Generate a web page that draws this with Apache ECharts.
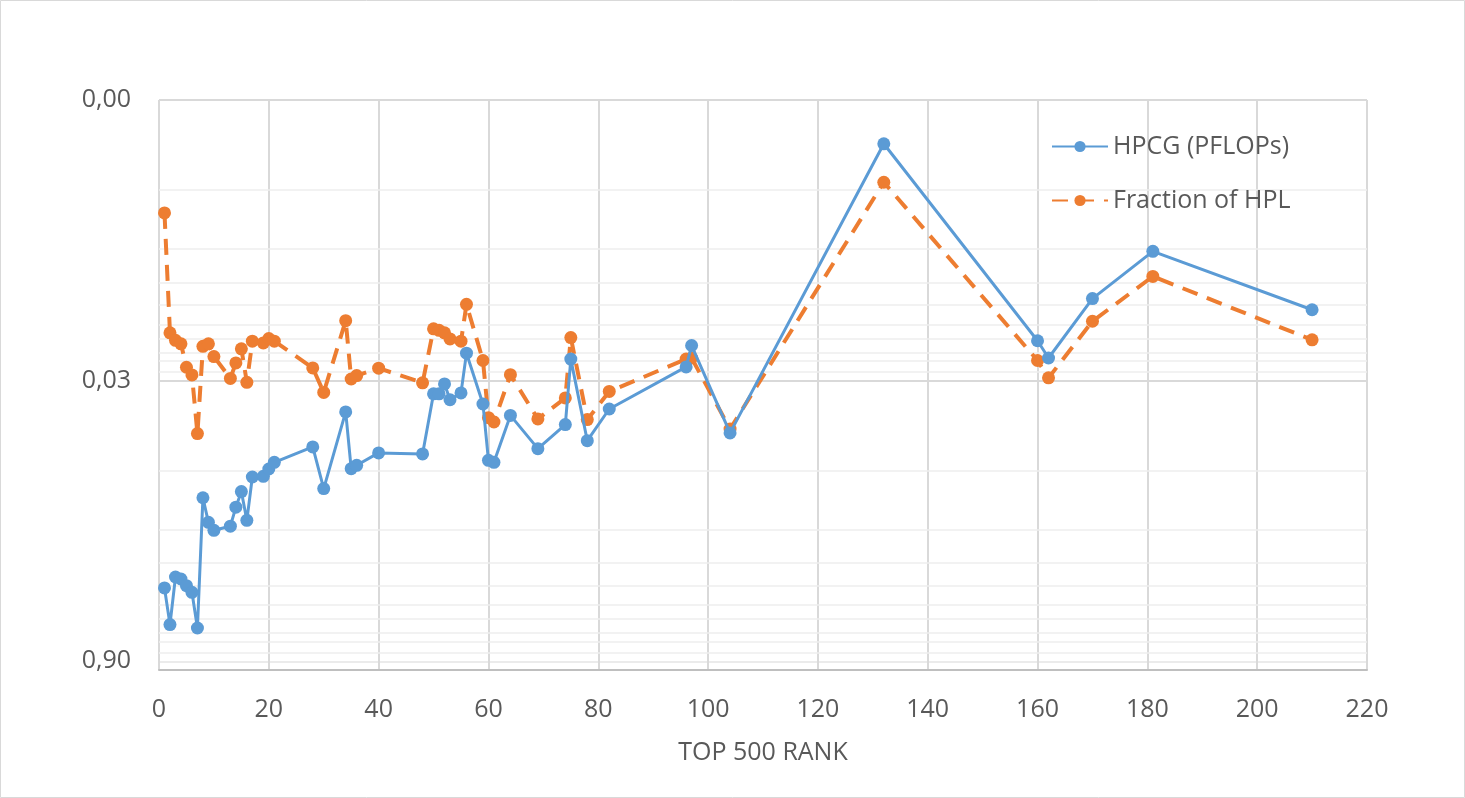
<!DOCTYPE html>
<html>
<head>
<meta charset="utf-8">
<script src="https://cdn.jsdelivr.net/npm/echarts@6/dist/echarts.min.js"></script>
<style>
html,body{margin:0;padding:0;background:#fff;}
#chart{width:1465px;height:798px;}
</style>
</head>
<body>
<div id="chart"></div>
<script>
// TOP500 rank (x)
var ranks = [1,2,3,4,5,6,7,8,9,10,13,14,15,16,17,19,20,21,28,30,34,35,36,40,48,50,51,52,53,55,56,59,60,61,64,69,74,75,78,82,96,97,104,132,160,162,170,181,210];
// HPCG (PFLOPs)
var hpcg = [0.370,0.577,0.324,0.332,0.360,0.390,0.601,0.124,0.167,0.184,0.175,0.139,0.115,0.163,0.0964,0.0957,0.0875,0.0807,0.0670,0.111,0.0438,0.0872,0.0837,0.0720,0.0729,0.0352,0.0352,0.0312,0.0378,0.0348,0.0215,0.0398,0.0788,0.0807,0.0457,0.0684,0.0511,0.0231,0.0621,0.0423,0.0254,0.0196,0.0565,0.00170,0.0185,0.0228,0.0111,0.00626,0.0127];
// Fraction of HPL
var fraction = [0.00393,0.0168,0.0184,0.0192,0.0255,0.0280,0.0570,0.0198,0.0192,0.0224,0.0292,0.0242,0.0204,0.0306,0.0186,0.0190,0.0180,0.0186,0.0257,0.0346,0.0145,0.0294,0.0282,0.0258,0.0308,0.0160,0.0163,0.0168,0.0181,0.0186,0.0119,0.0235,0.0470,0.0495,0.0279,0.0477,0.0370,0.0178,0.0481,0.0342,0.0231,0.0228,0.0539,0.00271,0.0235,0.0290,0.0146,0.00848,0.0183];
// log axis settings (base 30, reversed)
var logBase = 30;
var yMin = 0.001;
var yMax = 1.0;
var majorTicks = [0.001, 0.03, 0.9];
var minorMultipliers = [3,6,9,12,15,18,21,24,27];

function toU(v){ return Math.log(v / yMin) / Math.log(logBase); }
function fromU(u){ return yMin * Math.pow(logBase, u); }

var minorValues = [];
[0.001, 0.03].forEach(function(d){ minorMultipliers.forEach(function(k){ minorValues.push(d * k); }); });

var FONT = '"Open Sans", "Noto Sans", sans-serif';
var TXT = '#595959';

var chart = echarts.init(document.getElementById('chart'), null, {renderer:'canvas'});
var option = {
  animation: false,
  backgroundColor: '#ffffff',
  textStyle: {fontFamily: FONT},
  graphic: [{
    type: 'rect', silent: true, z: -10,
    shape: {x: 0.5, y: 0.5, width: 1464, height: 797},
    style: {fill: 'none', stroke: '#d9d9d9', lineWidth: 1}
  }],
  grid: {left: 159, right: 98, top: 100, bottom: 128, containLabel: false},
  legend: {
    orient: 'vertical',
    left: 1046, top: 129,
    itemWidth: 56, itemHeight: 14, itemGap: 29,
    textStyle: {fontFamily: FONT, fontSize: 25, color: TXT},
    data: ['HPCG (PFLOPs)', 'Fraction of HPL']
  },
  xAxis: {
    type: 'value', min: 0, max: 220, interval: 20,
    name: 'TOP 500 RANK', nameLocation: 'middle', nameGap: 70,
    nameTextStyle: {fontFamily: FONT, fontSize: 25, color: TXT},
    axisLine: {show: true, onZero: false, lineStyle: {color: '#bfbfbf', width: 2}},
    axisTick: {show: false},
    axisLabel: {fontFamily: FONT, fontSize: 25, color: TXT, margin: 27},
    splitLine: {show: true, lineStyle: {color: '#d9d9d9', width: 2}}
  },
  yAxis: {
    type: 'value', inverse: true,
    min: 0, max: toU(yMax), interval: 1,
    axisLine: {show: false},
    axisTick: {show: false},
    axisLabel: {
      fontFamily: FONT, fontSize: 25, color: TXT, margin: 28,
      padding: [6, 0, 0, 0],
      formatter: function(u){
        if (Math.abs(u - Math.round(u)) > 1e-6) return '';
        var v = fromU(Math.round(u));
        var ok = majorTicks.some(function(t){ return Math.abs(t - v) < 1e-9; });
        return ok ? v.toFixed(2).replace('.', ',') : '';
      }
    },
    splitLine: {show: true, lineStyle: {color: ['#d9d9d9','#d9d9d9','#ebebeb','#d9d9d9'], width: 2}}
  },
  series: [{
    name: 'HPCG (PFLOPs)',
    type: 'line',
    data: ranks.map(function(r, i){ return [r, toU(hpcg[i])]; }),
    symbol: 'circle', symbolSize: 13,
    itemStyle: {color: '#5B9BD5'},
    lineStyle: {color: '#5B9BD5', width: 3},
    z: 3,
    markLine: {
      silent: true, z: 1, animation: false,
      symbol: ['none', 'none'],
      label: {show: false},
      emphasis: {disabled: true},
      lineStyle: {color: '#eeeeee', width: 1.5, type: 'solid'},
      data: minorValues.map(function(v){ return {yAxis: toU(v)}; })
    }
  }, {
    name: 'Fraction of HPL',
    type: 'line',
    data: ranks.map(function(r, i){ return [r, toU(fraction[i])]; }),
    symbol: 'circle', symbolSize: 13,
    itemStyle: {color: '#ED7D31'},
    lineStyle: {color: '#ED7D31', width: 4, type: [16, 10]},
    z: 2
  }]
};
chart.setOption(option);
</script>
</body>
</html>
